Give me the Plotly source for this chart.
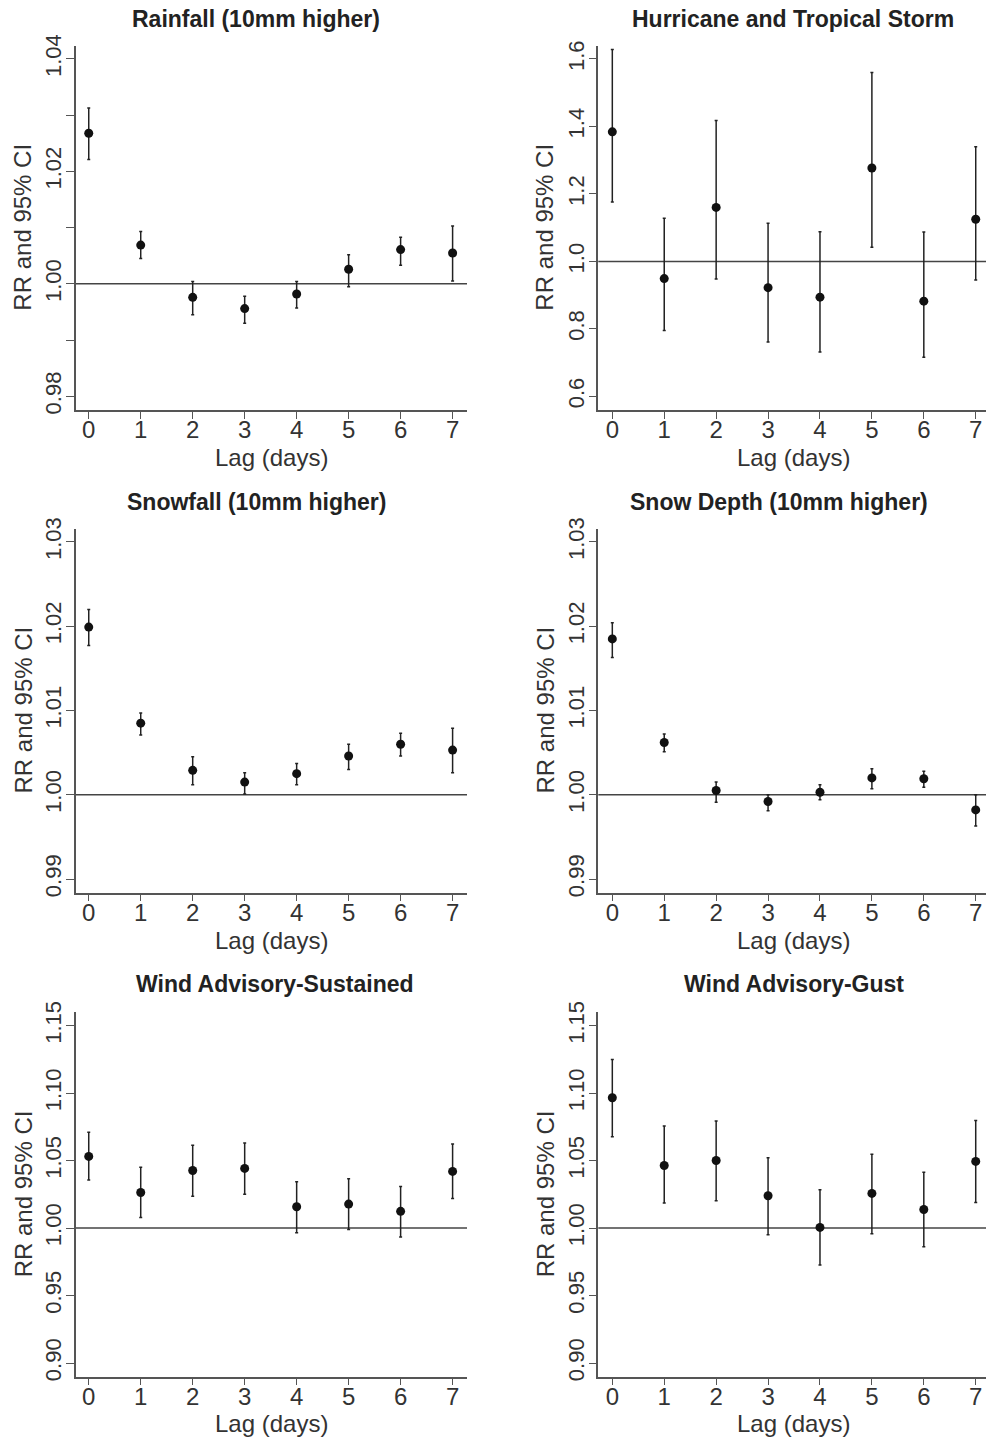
import plotly.graph_objects as go

W, H = 986, 1439

lags = [0, 1, 2, 3, 4, 5, 6, 7]

# Rainfall (10mm higher)
rain_rr = [1.0268, 1.0069, 0.9976, 0.9956, 0.9982, 1.0026, 1.0061, 1.0055]
rain_lo = [1.0221, 1.0045, 0.9945, 0.9930, 0.9957, 0.9995, 1.0033, 1.0005]
rain_hi = [1.0313, 1.0093, 1.0004, 0.9978, 1.0004, 1.0052, 1.0083, 1.0103]

# Hurricane and Tropical Storm
hurr_rr = [1.384, 0.949, 1.160, 0.922, 0.894, 1.277, 0.882, 1.125]
hurr_lo = [1.176, 0.795, 0.948, 0.761, 0.731, 1.042, 0.716, 0.945]
hurr_hi = [1.628, 1.128, 1.418, 1.113, 1.088, 1.560, 1.087, 1.340]

# Snowfall (10mm higher)
snowfall_rr = [1.0199, 1.0085, 1.0029, 1.0015, 1.0025, 1.0046, 1.0060, 1.0053]
snowfall_lo = [1.0177, 1.0071, 1.0012, 1.0001, 1.0012, 1.0030, 1.0046, 1.0026]
snowfall_hi = [1.0220, 1.0097, 1.0045, 1.0026, 1.0037, 1.0060, 1.0073, 1.0079]

# Snow Depth (10mm higher)
depth_rr = [1.0185, 1.0062, 1.0005, 0.9992, 1.0003, 1.0020, 1.0019, 0.9982]
depth_lo = [1.0163, 1.0051, 0.9991, 0.9981, 0.9994, 1.0007, 1.0009, 0.9963]
depth_hi = [1.0204, 1.0072, 1.0015, 1.0000, 1.0012, 1.0031, 1.0028, 1.0000]

# Wind Advisory-Sustained
sust_rr = [1.0531, 1.0264, 1.0427, 1.0442, 1.0158, 1.0178, 1.0124, 1.0420]
sust_lo = [1.0356, 1.0079, 1.0235, 1.0250, 0.9965, 0.9990, 0.9933, 1.0220]
sust_hi = [1.0711, 1.0450, 1.0613, 1.0630, 1.0343, 1.0366, 1.0309, 1.0623]

# Wind Advisory-Gust
gust_rr = [1.0966, 1.0464, 1.0501, 1.0240, 1.0005, 1.0257, 1.0138, 1.0494]
gust_lo = [1.0677, 1.0185, 1.0203, 0.9951, 0.9726, 0.9958, 0.9862, 1.0190]
gust_hi = [1.1250, 1.0756, 1.0793, 1.0521, 1.0284, 1.0548, 1.0413, 1.0798]

titles = [
    "Rainfall (10mm higher)",
    "Hurricane and Tropical Storm",
    "Snowfall (10mm higher)",
    "Snow Depth (10mm higher)",
    "Wind Advisory-Sustained",
    "Wind Advisory-Gust",
]

# y limits and tick values per panel
ylims = [(0.98, 1.04), (0.6, 1.6), (0.99, 1.03), (0.99, 1.03), (0.90, 1.15), (0.90, 1.15)]
yticks = [
    [0.98, 0.99, 1.00, 1.01, 1.02, 1.03, 1.04],
    [0.6, 0.8, 1.0, 1.2, 1.4, 1.6],
    [0.99, 1.00, 1.01, 1.02, 1.03],
    [0.99, 1.00, 1.01, 1.02, 1.03],
    [0.90, 0.95, 1.00, 1.05, 1.10, 1.15],
    [0.90, 0.95, 1.00, 1.05, 1.10, 1.15],
]
yticktext = [
    ["0.98", "", "1.00", "", "1.02", "", "1.04"],
    ["0.6", "0.8", "1.0", "1.2", "1.4", "1.6"],
    ["0.99", "1.00", "1.01", "1.02", "1.03"],
    ["0.99", "1.00", "1.01", "1.02", "1.03"],
    ["0.90", "0.95", "1.00", "1.05", "1.10", "1.15"],
    ["0.90", "0.95", "1.00", "1.05", "1.10", "1.15"],
]

series = [
    (rain_rr, rain_lo, rain_hi),
    (hurr_rr, hurr_lo, hurr_hi),
    (snowfall_rr, snowfall_lo, snowfall_hi),
    (depth_rr, depth_lo, depth_hi),
    (sust_rr, sust_lo, sust_hi),
    (gust_rr, gust_lo, gust_hi),
]

# panel geometry in pixels
col_x = [(76, 467, [-0.245, 7.277]), (598.3, 986, [-0.27, 7.198])]
row_y = [(45.5, 409.8), (528.5, 892.5), (1012.2, 1376.5)]
title_y = [19, 502, 984]
title_x = [256, 793, 256, 779, 274.5, 794]
xlab_y = [457, 940, 1423]

FONT = "Liberation Sans, Arial, sans-serif"
AXIS_COLOR = "#555555"
TEXT_COLOR = "#333333"

fig = go.Figure()
layout = dict(
    width=W, height=H,
    margin=dict(l=0, r=0, t=0, b=0),
    paper_bgcolor="white", plot_bgcolor="white",
    showlegend=False,
    font=dict(family=FONT, color=TEXT_COLOR),
)
annotations = []
shapes = []

for i in range(6):
    r, c = divmod(i, 2)
    k = "" if i == 0 else str(i + 1)
    x0, x1, xr = col_x[c]
    ytop, ybot = row_y[r]
    lo, hi = ylims[i]
    pad = 0.04 * (hi - lo)
    rr, ci_lo, ci_hi = series[i]

    fig.add_trace(go.Scatter(
        x=lags, y=rr, mode="markers",
        xaxis="x" + k, yaxis="y" + k,
        marker=dict(color="#111111", size=9),
        error_y=dict(
            type="data", symmetric=False,
            array=[h - v for h, v in zip(ci_hi, rr)],
            arrayminus=[v - l for v, l in zip(rr, ci_lo)],
            color="#222222", thickness=1.5, width=1.5,
        ),
    ))

    layout["xaxis" + k] = dict(
        domain=[x0 / W, x1 / W], anchor="y" + k, range=xr,
        tickvals=lags, ticktext=[str(v) for v in lags],
        showline=True, linecolor=AXIS_COLOR, linewidth=1.5,
        ticks="outside", ticklen=7, tickwidth=1.2, tickcolor=AXIS_COLOR,
        ticklabelstandoff=-9,
        showgrid=False, zeroline=False, automargin=False,
        tickfont=dict(size=24, color=TEXT_COLOR, family=FONT),
        fixedrange=True,
    )
    layout["yaxis" + k] = dict(
        domain=[1 - ybot / H, 1 - ytop / H], anchor="x" + k,
        range=[lo - pad, hi + pad],
        tickvals=yticks[i], ticktext=yticktext[i], tickangle=-90,
        showline=True, linecolor=AXIS_COLOR, linewidth=1.5,
        ticks="outside", ticklen=8, tickwidth=1.2, tickcolor=AXIS_COLOR,
        ticklabelstandoff=-4,
        showgrid=False, zeroline=False, automargin=False,
        tickfont=dict(size=22, color=TEXT_COLOR, family=FONT),
        fixedrange=True,
    )

    # reference line at RR = 1
    shapes.append(dict(
        type="line", xref=f"x{k} domain", yref="y" + k,
        x0=0, x1=1, y0=1.0, y1=1.0,
        line=dict(color="#444444", width=1.5), layer="below",
    ))

    annotations.append(dict(
        text="<b>" + titles[i] + "</b>", xref="paper", yref="paper",
        x=title_x[i] / W, y=1 - title_y[r] / H,
        xanchor="center", yanchor="middle", showarrow=False,
        font=dict(size=23, color="#222222", family=FONT),
    ))
    annotations.append(dict(
        text="Lag (days)", xref="paper", yref="paper",
        x=((x0 + x1) / 2 if c == 0 else 793.3) / W, y=1 - xlab_y[r] / H,
        xanchor="center", yanchor="middle", showarrow=False,
        font=dict(size=24, color=TEXT_COLOR, family=FONT),
    ))
    annotations.append(dict(
        text="RR and 95% CI", xref="paper", yref="paper",
        x=(23 if c == 0 else 545) / W, y=1 - (ytop + ybot) / 2 / H,
        xanchor="center", yanchor="middle", textangle=-90, showarrow=False,
        font=dict(size=24, color=TEXT_COLOR, family=FONT),
    ))

layout["annotations"] = annotations
layout["shapes"] = shapes
fig.update_layout(**layout)
fig.write_html("out.html")
